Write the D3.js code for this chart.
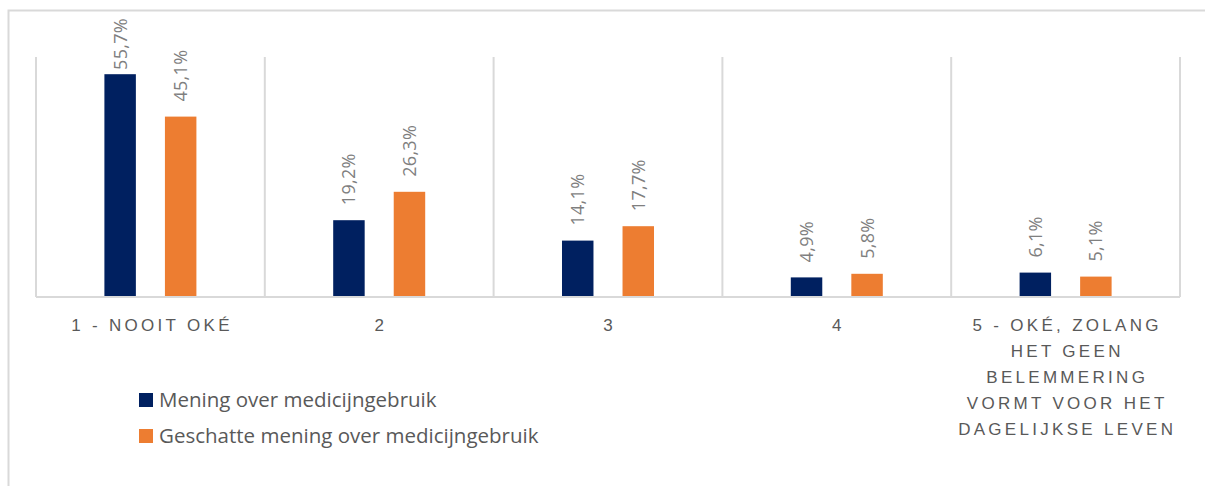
<!DOCTYPE html>
<html>
<head>
<meta charset="utf-8">
<script src="https://cdn.jsdelivr.net/npm/d3@7"></script>
<style>
  body { margin: 0; background: #fff; }
  svg { display: block; font-family: "Open Sans", sans-serif; }
</style>
</head>
<body>
<div id="chart"></div>
<script>
const categories = ['1', '2', '3', '4', '5'];
const tickLabels = [
    ['1 - NOOIT OKÉ'],
    ['2'],
    ['3'],
    ['4'],
    ['5 - OKÉ, ZOLANG', 'HET GEEN', 'BELEMMERING', 'VORMT VOOR HET', 'DAGELIJKSE LEVEN']
];
const series = ['Mening over medicijngebruik', 'Geschatte mening over medicijngebruik'];
const eigenMening = [55.7, 19.2, 14.1, 4.9, 6.1];
const geschatteMening = [45.1, 26.3, 17.7, 5.8, 5.1];

const width = 1205;
const height = 486;
const plot = { left: 36, right: 1180, top: 57, bottom: 297 };

const fmt = v => d3.format('.1f')(v).replace('.', ',') + '%';

const color = d3.scaleOrdinal().domain(series).range(['#002060', '#ED7D31']);

const x = d3.scaleBand().domain(categories).range([plot.left, plot.right]);
const xs = d3.scaleBand().domain(series).range([0, x.bandwidth()])
    .paddingInner(0.48).paddingOuter(1.13);
const y = d3.scaleLinear().domain([0, 60]).range([plot.bottom, plot.top]);

const svg = d3.select('#chart').append('svg')
    .attr('width', width)
    .attr('height', height);

// outer frame
svg.append('rect')
    .attr('x', 8.5).attr('y', 10.5)
    .attr('width', 1210).attr('height', 500)
    .attr('fill', 'none')
    .attr('stroke', '#d9d9d9')
    .attr('stroke-width', 2);

// vertical category separators
svg.append('g')
    .selectAll('line')
    .data(categories.concat(['end']))
    .join('line')
    .attr('x1', (d, i) => i < categories.length ? x(d) : plot.right)
    .attr('x2', (d, i) => i < categories.length ? x(d) : plot.right)
    .attr('y1', plot.top)
    .attr('y2', plot.bottom)
    .attr('stroke', '#d9d9d9')
    .attr('stroke-width', 2);

const rows = categories.map((c, i) => [
    { cat: c, key: series[0], value: eigenMening[i] },
    { cat: c, key: series[1], value: geschatteMening[i] }
]).flat();

svg.append('g')
    .selectAll('rect')
    .data(rows)
    .join('rect')
    .attr('x', d => x(d.cat) + xs(d.key))
    .attr('y', d => y(d.value))
    .attr('width', xs.bandwidth())
    .attr('height', d => y(0) - y(d.value))
    .attr('fill', d => color(d.key));

// data labels, rotated; pushed down when they would run past the top
svg.append('g')
    .selectAll('text')
    .data(rows)
    .join('text')
    .attr('fill', '#7f7f7f')
    .style('font-size', '18px')
    .style('letter-spacing', '0.3px')
    .text(d => fmt(d.value))
    .attr('transform', function(d) {
        const len = this.getComputedTextLength();
        const start = Math.max(y(d.value) - 15, 18 + len);
        return `translate(${x(d.cat) + xs(d.key) + xs.bandwidth() / 2 + 6.5},${start}) rotate(-90)`;
    });

// baseline
svg.append('line')
    .attr('x1', plot.left).attr('x2', plot.right)
    .attr('y1', plot.bottom).attr('y2', plot.bottom)
    .attr('stroke', '#d9d9d9')
    .attr('stroke-width', 2);

// category axis
const xAxis = svg.append('g')
    .attr('transform', `translate(0,${plot.bottom})`)
    .call(d3.axisBottom(x).tickSize(0).tickFormat(''));
xAxis.select('.domain').remove();

xAxis.selectAll('.tick').each(function(d, i) {
    const t = d3.select(this).append('text')
        .attr('fill', '#595959')
        .attr('text-anchor', 'middle')
        .style('font-size', '17px')
        .style('letter-spacing', '3.3px');
    tickLabels[i].forEach((line, j) => {
        t.append('tspan')
            .attr('x', 1.6)
            .attr('y', 34 + j * 26)
            .text(line);
    });
});

// legend
const legend = svg.selectAll('.legend')
    .data(series)
    .join('g')
    .attr('class', 'legend')
    .attr('transform', (d, i) => `translate(139,${393 + i * 36})`);

legend.append('rect')
    .attr('width', 14)
    .attr('height', 14)
    .attr('fill', color);

legend.append('text')
    .attr('x', 20)
    .attr('y', 14)
    .attr('fill', '#595959')
    .style('font-size', '20.5px')
    .text(d => d);
</script>
</body>
</html>
